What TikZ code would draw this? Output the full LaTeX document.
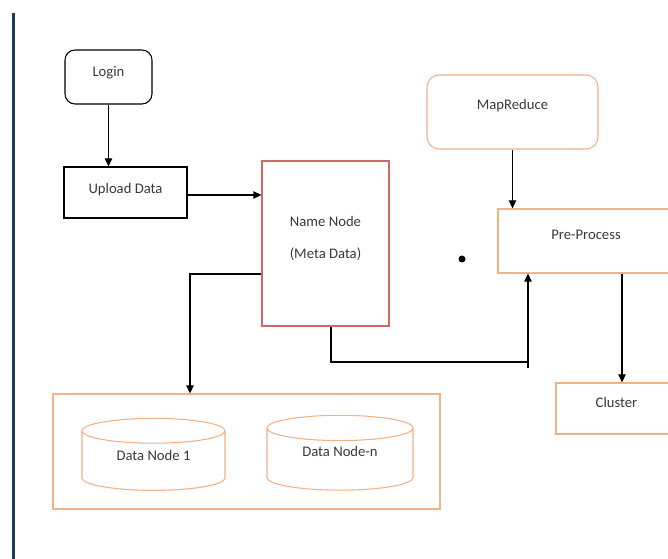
\documentclass[tikz,border=0pt]{standalone}
\usepackage{fontspec}
\setmainfont{Carlito}
\usetikzlibrary{positioning,arrows.meta,shapes.geometric}

\definecolor{boxorange}{HTML}{F4B183}
\definecolor{boxred}{HTML}{CD6A68}
\definecolor{sidebar}{HTML}{1B3A57}
\definecolor{labelgray}{HTML}{3A3A3A}

\begin{document}
\begin{tikzpicture}[
    x=0.75pt, y=-0.75pt,
    font=\fontsize{11}{13}\selectfont,
    box/.style={rectangle, draw, line width=0.8pt, align=center, text=labelgray, text height=8pt},
    roundbox/.style={box, rounded corners=#1},
    orangebox/.style={box, draw=boxorange},
    store/.style={cylinder, shape border rotate=90, draw=boxorange, line width=0.8pt, aspect=0.3, fill=white, text=labelgray, text height=8pt},
    lift/.style={text depth=#1},
    arrow/.style={-{Triangle[length=6pt,width=5.5pt]}, line width=0.8pt}
]

\useasboundingbox[fill=white] (0,0) rectangle (668,559);
\fill[sidebar] (12,13) rectangle (15,559);

% -------- Left column --------
\node[roundbox=7.5pt, lift=8.4pt, minimum width=65.25pt, minimum height=40.5pt] (login) at (108.5,77) {Login};

\node[box, lift=6.2pt, minimum width=92.25pt, minimum height=38.25pt] (upload) at (125.5,192.5) {Upload Data};

\node[box, draw=boxred, text height=26pt, lift=4.2pt, minimum width=95.25pt, minimum height=123.75pt] (namenode) at (325.5,243.5) {
Name Node \\[11pt]
(Meta Data)
};

% -------- Right column --------
\node[orangebox, rounded corners=9pt, lift=11.4pt, minimum width=128.25pt, minimum height=55.5pt] (mapreduce) at (512.5,112) {MapReduce};

\node[orangebox, lift=9.9pt, minimum width=132pt, minimum height=48pt] (preprocess) at (586,241) {Pre-Process};

\node[orangebox, lift=9.2pt, minimum width=90.75pt, minimum height=38.25pt] (cluster) at (616.5,408.5) {Cluster};

\node[circle, fill=black, inner sep=0pt, minimum size=5.25pt] (dot) at (462,259) {};

% -------- Data nodes --------
\node[orangebox, minimum width=290.25pt, minimum height=86.25pt] (datastore) at (246.5,451.5) {};

\node[store, lift=11.4pt, minimum width=107.25pt, minimum height=54pt] (dn1) at (153.5,463) {Data Node 1};
\node[store, lift=15.9pt, minimum width=109.5pt, minimum height=48.75pt] (dnn) at (340,461.5) {Data Node-n};

% -------- Arrows --------
\coordinate (elbow) at (528,368);

\draw[arrow] (login.south) -- (login.south |- upload.north);
\draw[arrow] (upload.east |- 0,195) -- (namenode.west |- 0,195);
\draw[arrow] (namenode.west |- 0,274) -| (190,0 |- datastore.north);
\draw[line width=0.8pt] (331,0 |- namenode.south) |- (elbow |- 0,362);
\draw[arrow] (elbow) -- (elbow |- preprocess.south);
\draw[arrow] (mapreduce.south) -- (mapreduce.south |- preprocess.north);
\draw[arrow] (622,0 |- preprocess.south) -- (622,0 |- cluster.north);

\end{tikzpicture}
\end{document}
